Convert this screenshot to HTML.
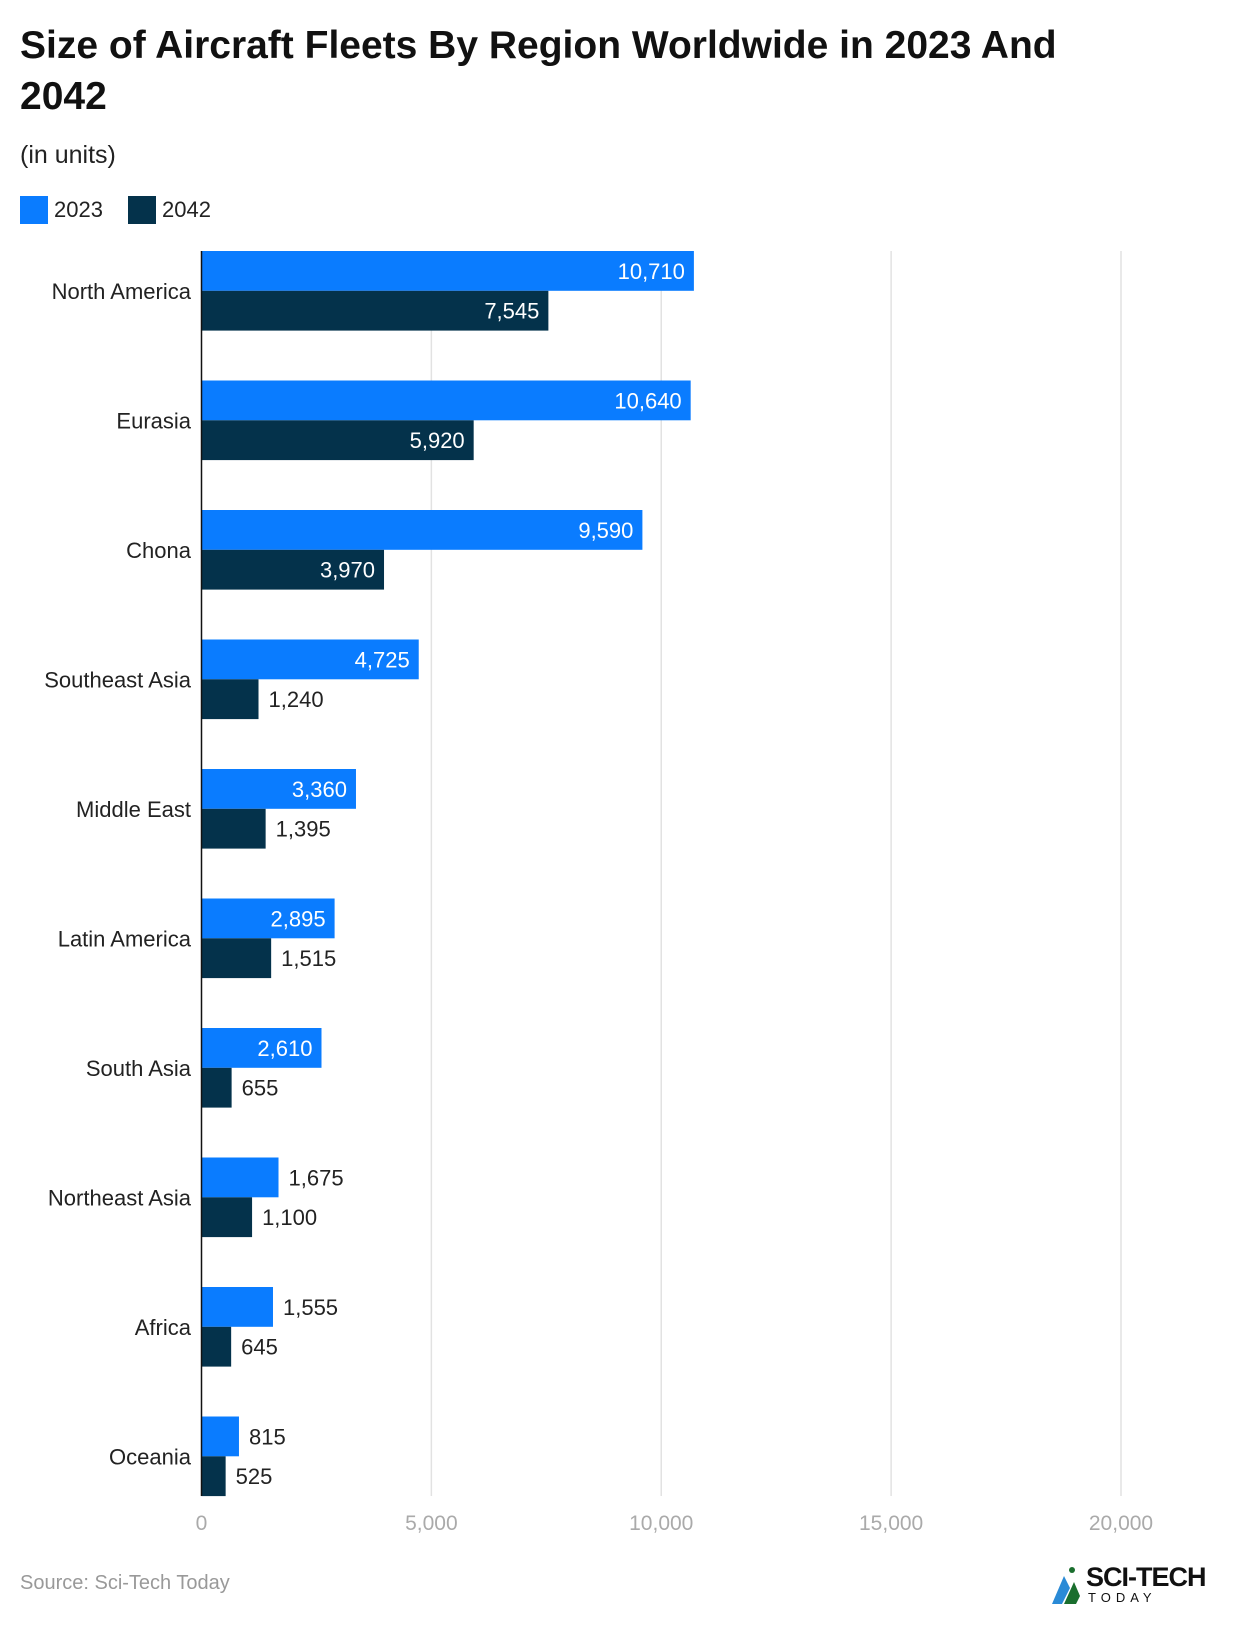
<!DOCTYPE html>
<html><head><meta charset="utf-8"><style>
body{margin:0;background:#fff;font-family:"Liberation Sans",Arial,sans-serif;}
#wrap{position:relative;width:1240px;height:1626px;overflow:hidden}
.t{position:absolute;white-space:nowrap}
</style></head><body>
<div id="wrap">
<div class="t" style="left:20px;top:20px;font-size:39px;font-weight:bold;line-height:51px;color:#111;white-space:normal;width:1110px">Size of Aircraft Fleets By Region Worldwide in 2023 And 2042</div>
<div class="t" style="left:20px;top:141px;font-size:25px;color:#222">(in units)</div>
<div class="t" style="left:20px;top:196px;font-size:22px;color:#222"><span style="display:inline-block;width:28px;height:28px;background:#0a7cff;vertical-align:middle;margin-right:6px"></span><span style="vertical-align:middle">2023</span></div>
<div class="t" style="left:128px;top:196px;font-size:22px;color:#222"><span style="display:inline-block;width:28px;height:28px;background:#04324b;vertical-align:middle;margin-right:6px"></span><span style="vertical-align:middle">2042</span></div>
<svg id="chart" width="1240" height="1626" style="position:absolute;left:0;top:0"></svg>
<div class="t" style="left:20px;top:1572px;font-size:20px;color:#999">Source: Sci-Tech Today</div>
<div class="t" style="left:1050px;top:1562px;">
<svg width="40" height="44" style="position:absolute;left:0;top:0"><polygon points="2,42 14,14 20,26 12,42" fill="#2a8ad6"/><polygon points="14,42 24,20 30,34 26,42" fill="#1a6e2e"/><circle cx="22" cy="8" r="3" fill="#1a6e2e"/></svg>
<span style="position:absolute;left:36px;top:0;font-size:27px;font-weight:bold;color:#111;letter-spacing:-1px">SCI-TECH</span>
<span style="position:absolute;left:38px;top:28px;font-size:13px;color:#111;letter-spacing:5px">TODAY</span></div>
</div>
<script>
const categories=["North America","Eurasia","Chona","Southeast Asia","Middle East","Latin America","South Asia","Northeast Asia","Africa","Oceania"];
const values2023=[10710,10640,9590,4725,3360,2895,2610,1675,1555,815];
const values2042=[7545,5920,3970,1240,1395,1515,655,1100,645,525];
const ticks=[0,5000,10000,15000,20000];
const svg=document.getElementById('chart');const NS='http://www.w3.org/2000/svg';
const x0=201.5,x1=1121,vmax=20000,top0=251,step=129.5,bh=39.8;
const X=v=>x0+(x1-x0)*v/vmax;
function mk(t,a){const e=document.createElementNS(NS,t);for(const k in a)e.setAttribute(k,a[k]);svg.appendChild(e);return e;}
const fmt=v=>v.toLocaleString('en-US');
ticks.forEach(t=>{
 if(t>0){const g=mk('line',{x1:X(t),x2:X(t),y1:top0,y2:1496,stroke:'#e2e2e2','stroke-width':1.5});
 
 }
 const l=mk('text',{x:X(t),y:1530,'text-anchor':'middle','font-size':21,fill:'#aaa'});l.textContent=fmt(t);
 
 
});
categories.forEach((c,i)=>{
 const y=top0+i*step;
 const cl=mk('text',{x:191,y:y+bh+8,'text-anchor':'end','font-size':22,fill:'#222'});cl.textContent=c;
 
 
 [[values2023[i],'#0a7cff',y],[values2042[i],'#04324b',y+bh]].forEach(([v,col,yy])=>{
  const r=mk('rect',{x:x0,y:yy,width:X(v)-x0,height:bh,fill:col});
  
  
  const inside=v>=2000;
  const tx=mk('text',{x:inside?X(v)-9:X(v)+10,y:yy+bh/2+8,'text-anchor':inside?'end':'start','font-size':22,fill:inside?'#fff':'#222'});
  tx.textContent=fmt(v);
  
  
 });
});
const ax=mk('line',{x1:x0,x2:x0,y1:top0,y2:1496,stroke:'#111','stroke-width':1.5});


</script>
</body></html>
